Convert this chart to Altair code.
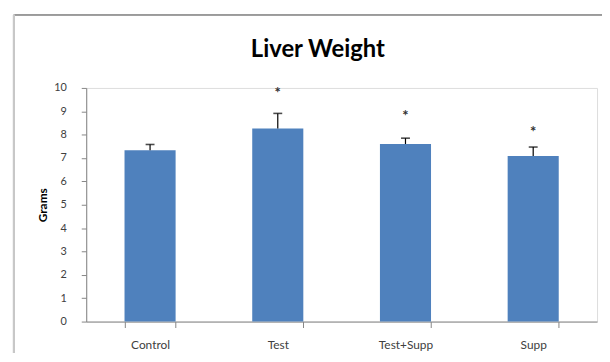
import altair as alt
import pandas as pd

groups = ["Control", "Test", "Test+Supp", "Supp"]
means = [7.33, 8.26, 7.60, 7.09]
errors = [0.25, 0.65, 0.25, 0.38]
star_labels = ["", "*", "*", "*"]
star_pos = [9.0, 9.87, 8.86, 8.18]
y_ticks = list(range(0, 11))
title_text = ["Liver Weight"]

df = pd.DataFrame({
    "group": groups,
    "mean": means,
    "upper": [m + e for m, e in zip(means, errors)],
    "star": star_labels,
    "star_y": star_pos,
})

FONT = "Lato"
W, H = 516, 236

x_axis = alt.Axis(
    labelAngle=0, tickBand="extent", tickSize=6, labelPadding=12,
    labelFontSize=12, labelFont=FONT, labelColor="#404040",
    domainColor="#868686", tickColor="#868686", grid=False, title=None,
)
x_scale = alt.Scale(paddingInner=0.6, paddingOuter=0.3)
y_axis = alt.Axis(
    values=y_ticks, labelOverlap=False, tickSize=5,
    labelPadding=15, labelFontSize=11,
    labelFont=FONT, labelColor="#404040", domainColor="#868686",
    tickColor="#868686", grid=False, titleFont=FONT, titleFontSize=12,
    titleFontWeight="bold", titleColor="#000000", titlePadding=4,
    title="Grams",
)
y_scale = alt.Scale(domain=[0, 10], nice=False, zero=True)


def X():
    return alt.X("group:N", sort=groups, scale=x_scale, axis=x_axis)


def Y(field):
    return alt.Y(field, scale=y_scale, axis=y_axis)


base = alt.Chart(df)

bars = base.mark_bar(color="#4F81BD").encode(x=X(), y=Y("mean:Q"))

err_rule = base.mark_rule(color="#000000", strokeWidth=1.2).encode(
    x=X(), y=Y("mean:Q"), y2="upper:Q",
)
err_cap = base.mark_tick(color="#000000", thickness=1.6, size=9).encode(
    x=X(), y=Y("upper:Q"),
)
stars = base.mark_text(font=FONT, fontSize=15, fontWeight="bold", color="#303030",
                       baseline="middle", dy=2).encode(
    x=X(), y=Y("star_y:Q"), text="star:N",
)

title = alt.Chart(pd.DataFrame({"t": title_text})).mark_text(
    font=FONT, fontSize=24, fontWeight="bold", color="#000000",
    baseline="alphabetic", align="center",
).encode(x=alt.value(234), y=alt.value(-31), text="t:N")

frame_top = alt.Chart(df).mark_rule(color="#9a9a9a", strokeWidth=1.5).encode(
    x=alt.value(-73), x2=alt.value(530), y=alt.value(-74)
)
frame_left = alt.Chart(df).mark_rule(color="#c8c8c8", strokeWidth=2).encode(
    x=alt.value(-73), y=alt.value(-74), y2=alt.value(300)
)

chart = alt.layer(frame_top, frame_left, title, bars, err_rule, err_cap, stars).properties(
    width=W,
    height=H,
    autosize=alt.AutoSizeParams(type="none"),
    padding={"left": 79, "top": 79, "right": 5, "bottom": 30},
).configure_view(stroke=None).configure(background="white")

chart.save("out.html", embed_options={"renderer": "svg", "actions": False})
